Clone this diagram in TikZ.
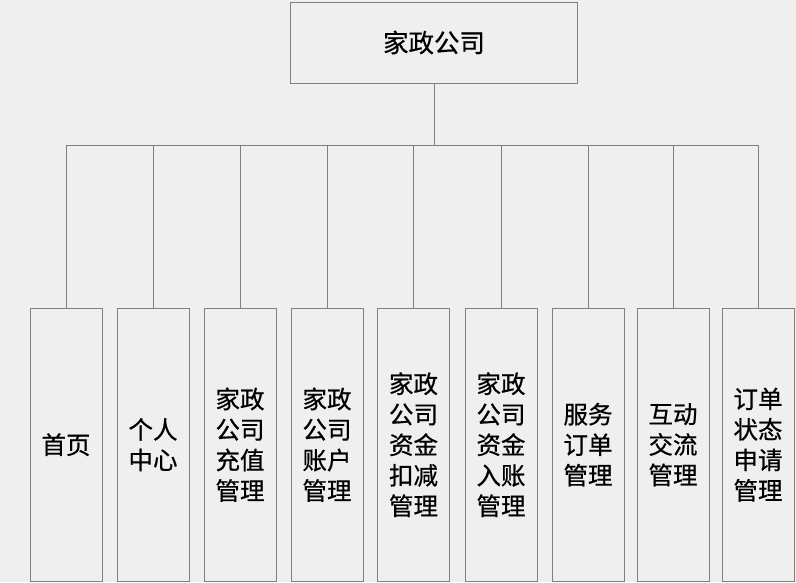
\documentclass[tikz,border=0pt]{standalone}
\usepackage{fontspec}
\setmainfont[FakeBold=0.6]{Noto Sans CJK SC}
\usepackage{tikz}
\definecolor{bggray}{RGB}{239,239,239}
\definecolor{linegray}{RGB}{128,128,128}
\tikzset{
    topbox/.style={rectangle, draw=linegray, fill=bggray, minimum width=287pt, minimum height=81pt, font=\fontsize{25.5pt}{30pt}\selectfont},
    leafbox/.style={rectangle, draw=linegray, fill=bggray, anchor=north, minimum width=72pt, minimum height=273pt, align=center, inner sep=0pt, font=\fontsize{24.5pt}{30.5pt}\selectfont},
    link/.style={draw=linegray, line width=0.8pt}
}

\begin{document}
\begin{tikzpicture}[x=1pt, y=-1pt]
            \fill[bggray] (0,0) rectangle (796,582);
            \useasboundingbox (0,0) rectangle (796,582);
            % Nodes
            \node[topbox] (0) at (434, 42.5) {家政公司};
            \node[leafbox] (1) at (66, 308) {首页};
            \node[leafbox] (2) at (153, 308) {个人\\中心};
            \node[leafbox] (3) at (240, 308) {家政\\公司\\充值\\管理};
            \node[leafbox] (4) at (327, 308) {家政\\公司\\账户\\管理};
            \node[leafbox] (5) at (413.5, 308) {家政\\公司\\资金\\扣减\\管理};
            \node[leafbox] (6) at (501, 308) {家政\\公司\\资金\\入账\\管理};
            \node[leafbox] (7) at (588, 308) {服务\\订单\\管理};
            \node[leafbox] (8) at (673, 308) {互动\\交流\\管理};
            \node[leafbox] (9) at (758, 308) {订单\\状态\\申请\\管理};
            \coordinate (bus) at (434, 145);
            % Edges
            \draw[link] (0) -- (bus);
            \draw[link] (bus) -| (1);
            \draw[link] (bus) -| (2);
            \draw[link] (bus) -| (3);
            \draw[link] (bus) -| (4);
            \draw[link] (bus) -| (5);
            \draw[link] (bus) -| (6);
            \draw[link] (bus) -| (7);
            \draw[link] (bus) -| (8);
            \draw[link] (bus) -| (9);
        \end{tikzpicture}
\end{document}
